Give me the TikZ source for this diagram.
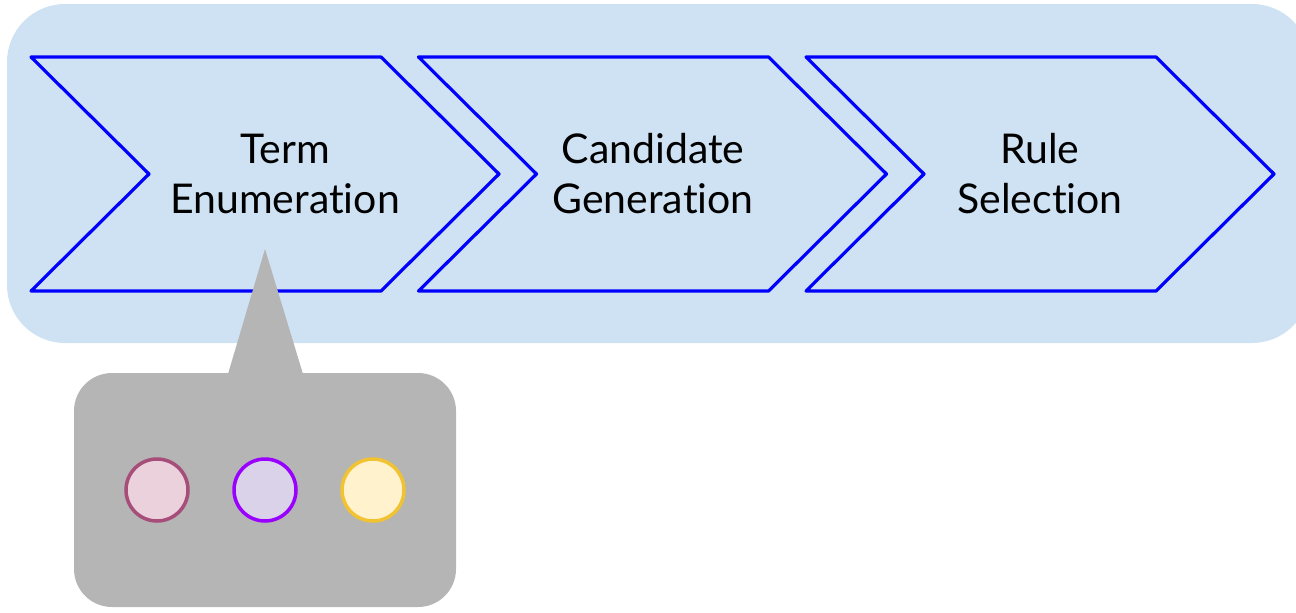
\documentclass[tikz,border=0pt]{standalone}
\usepackage{fontspec}
\setmainfont[Ligatures=NoCommon]{Lato}
\definecolor{panelblue}{HTML}{CFE2F3}
\definecolor{stepblue}{HTML}{0000FF}
\definecolor{calloutgray}{HTML}{B5B5B5}
\definecolor{pinkfill}{HTML}{EAD1DC}
\definecolor{pinkline}{HTML}{A64D79}
\definecolor{violetfill}{HTML}{D9D2E9}
\definecolor{violetline}{HTML}{9900FF}
\definecolor{yellowfill}{HTML}{FFF2CC}
\definecolor{yellowline}{HTML}{F1C232}
\tikzset{
  chevron/.style={draw=stepblue, line width=3.2pt, line join=round, fill=panelblue},
  steplabel/.style={align=center, font=\fontsize{41}{50}\selectfont, text=black, inner sep=0pt},
  dot/.style={circle, minimum size=62pt, inner sep=0pt, line width=3.5pt}
}
\begin{document}
\begin{tikzpicture}[x=1pt, y=-1pt]
  \useasboundingbox (0,0) rectangle (1296,613);
  % backdrop panel
  \fill[panelblue, rounded corners=58pt] (7,4) rectangle (1310,343);
  \fill[white] (1296,0) rectangle (1320,613);
  % three process chevrons
  \foreach \dx in {0,387.5,775} {
    \draw[chevron] (31+\dx,57) -- (381+\dx,57) -- (499+\dx,174) -- (381+\dx,291)
      -- (31+\dx,291) -- (149+\dx,174) -- cycle;
  }
  \node[steplabel] (term) at (285,174) {Term\\Enumeration};
  \node[steplabel] (cand) at (653,174) {Candidate\\Generation};
  \node[steplabel] (rule) at (1040,174) {Rule\\Selection};
  % speech callout
  \fill[calloutgray] (228,374) -- (265,249) -- (303,374) -- cycle;
  \fill[calloutgray, rounded corners=38pt] (74,373) rectangle (456,607);
  \node[dot, draw=pinkline, fill=pinkfill] (c1) at (157,490) {};
  \node[dot, draw=violetline, fill=violetfill] (c2) at (265,490) {};
  \node[dot, draw=yellowline, fill=yellowfill] (c3) at (373,490) {};
\end{tikzpicture}
\end{document}
